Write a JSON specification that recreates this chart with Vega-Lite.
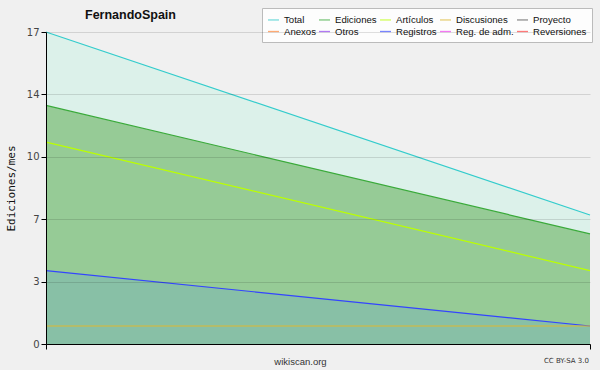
{
  "$schema": "https://vega.github.io/schema/vega-lite/v6.json",
  "width": 544,
  "height": 312,
  "autosize": {"type": "none"},
  "padding": {"left": 46, "top": 32, "right": 10, "bottom": 26},
  "background": "#f0f0f0",
  "title": {"text": "FernandoSpain", "anchor": "start", "frame": "group", "dx": 39, "offset": -14, "font": "Liberation Sans", "fontSize": 12.5, "fontWeight": "bold", "color": "#111111"},
  "config": {"view": {"stroke": null}},
  "data": {"values": [
    {"serie": "Total", "t": 0, "v": 17},
    {"serie": "Total", "t": 1, "v": 7.03},
    {"serie": "Ediciones", "t": 0, "v": 13},
    {"serie": "Ediciones", "t": 1, "v": 6},
    {"serie": "Artículos", "t": 0, "v": 11},
    {"serie": "Artículos", "t": 1, "v": 4},
    {"serie": "Registros", "t": 0, "v": 4},
    {"serie": "Registros", "t": 1, "v": 0.98},
    {"serie": "Discusiones", "t": 0, "v": 0.98},
    {"serie": "Discusiones", "t": 1, "v": 0.98}
  ]},
  "layer": [
    {
      "transform": [{"filter": "datum.serie === 'Total'"}],
      "mark": {"type": "area", "color": "#dcf1ea"},
      "encoding": {
        "x": {"field": "t", "type": "quantitative", "scale": {"domain": [0, 1], "nice": false, "zero": false},
          "axis": {"values": [0, 1], "labels": false, "grid": false, "title": "wikiscan.org", "titleX": 254, "titleY": 12, "titleFont": "Liberation Sans", "titleFontSize": 9.5, "titleFontWeight": "normal", "titleColor": "#333333", "domainColor": "#000000", "tickColor": "#000000", "tickSize": 5, "zindex": 1}},
        "y": {"field": "v", "type": "quantitative", "scale": {"domain": [0, 17], "nice": false},
          "axis": {"values": [0, 0.85, 1.7, 2.55, 3.4, 4.25, 5.1, 5.95, 6.8, 7.65, 8.5, 9.35, 10.2, 11.05, 11.9, 12.75, 13.6, 14.45, 15.3, 16.15, 17],
            "labelExpr": "abs(datum.value/3.4 - round(datum.value/3.4)) < 0.01 ? format(round(datum.value), 'd') : ''",
            "gridOpacity": {"condition": {"test": "abs(datum.value/3.4 - round(datum.value/3.4)) < 0.01", "value": 0.12}, "value": 0},
            "gridColor": "#000000",
            "title": "Ediciones/mes", "titleFont": "DejaVu Sans Mono", "titleFontSize": 11, "titleFontWeight": "normal", "titleColor": "#111111", "titleX": -30, "titleY": 156,
            "labelFont": "DejaVu Sans", "labelFontSize": 10, "labelColor": "#444444", "labelPadding": 2,
            "domainColor": "#000000", "tickColor": "#000000", "tickSize": 5, "zindex": 1}}
      }
    },
    {
      "transform": [{"filter": "datum.serie === 'Ediciones'"}],
      "mark": {"type": "area", "color": "#96cb96"},
      "encoding": {"x": {"field": "t", "type": "quantitative"}, "y": {"field": "v", "type": "quantitative"}}
    },
    {
      "transform": [{"filter": "datum.serie === 'Registros'"}],
      "mark": {"type": "area", "color": "#88c0a6"},
      "encoding": {"x": {"field": "t", "type": "quantitative"}, "y": {"field": "v", "type": "quantitative"}}
    },
    {
      "mark": {"type": "line", "strokeWidth": 1.2},
      "encoding": {
        "x": {"field": "t", "type": "quantitative"},
        "y": {"field": "v", "type": "quantitative"},
        "color": {"field": "serie", "type": "nominal",
          "scale": {"domain": ["Total", "Ediciones", "Artículos", "Discusiones", "Proyecto", "Anexos", "Otros", "Registros", "Reg. de adm.", "Reversiones"],
            "range": ["#33cccc", "#3aaa3a", "#bbff00", "#ddb830", "#555555", "#ff7f2a", "#8833ee", "#3344ff", "#ee33ee", "#ff3333"]},
          "legend": {"orient": "none", "legendX": 216, "legendY": -24, "columns": 5, "direction": "horizontal", "title": null,
            "symbolType": "stroke", "symbolStrokeWidth": 1.3, "symbolSize": 121, "symbolOpacity": 0.65,
            "labelFont": "Liberation Sans", "labelFontSize": 9.6, "labelColor": "#111111", "labelOffset": 4,
            "fillColor": "#fdfdfd", "strokeColor": "#bbbbbb", "padding": 5, "rowPadding": -4, "columnPadding": 0}}
      }
    },
    {
      "data": {"values": [{"note": "CC BY-SA 3.0", "t": 1, "v": 0}]},
      "mark": {"type": "text", "align": "right", "baseline": "middle", "dy": 17, "dx": -1, "font": "DejaVu Sans", "fontSize": 7, "color": "#333333"},
      "encoding": {"x": {"field": "t", "type": "quantitative"}, "y": {"field": "v", "type": "quantitative"}, "text": {"field": "note"}}
    }
  ]
}
